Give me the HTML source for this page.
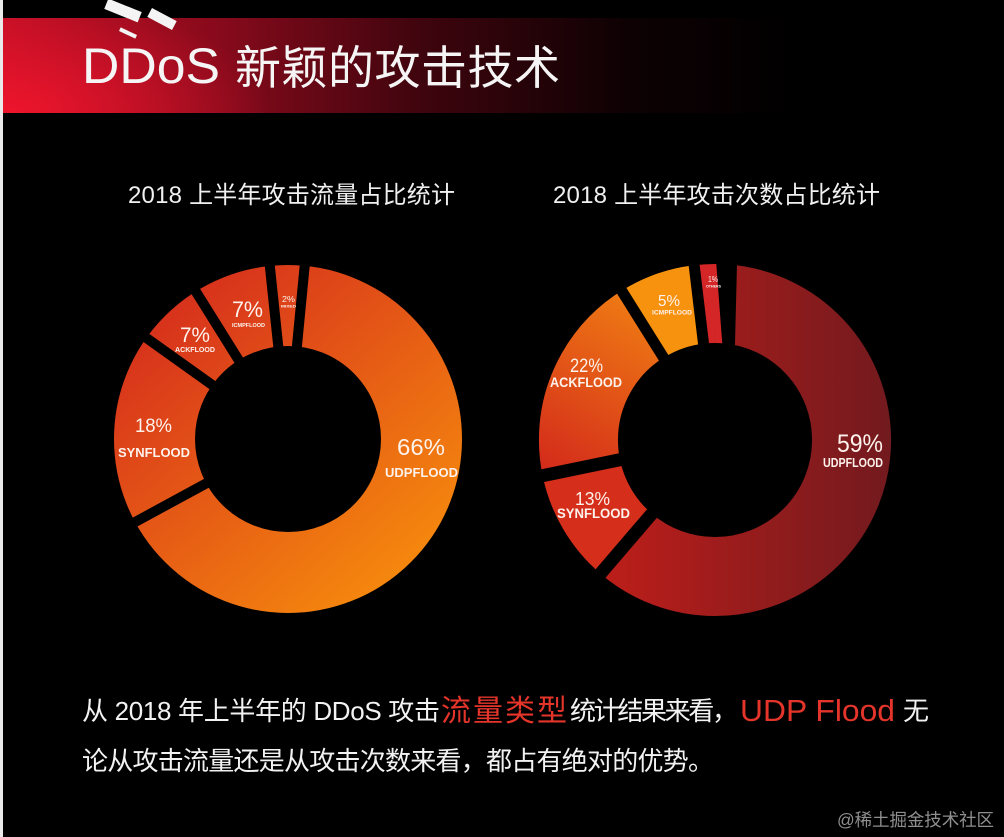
<!DOCTYPE html>
<html><head><meta charset="utf-8">
<style>
html,body{margin:0;padding:0;background:#000;width:1004px;height:837px;overflow:hidden}
svg{display:block}
</style></head>
<body>
<svg width="1004" height="837" viewBox="0 0 1004 837" xmlns="http://www.w3.org/2000/svg">
<defs>
  <linearGradient id="ban" x1="3" y1="0" x2="800" y2="0" gradientUnits="userSpaceOnUse">
    <stop offset="0" stop-color="#c20f25"/>
    <stop offset="0.28" stop-color="#850a1b"/>
    <stop offset="0.52" stop-color="#40050e"/>
    <stop offset="0.78" stop-color="#0e0103"/>
    <stop offset="1" stop-color="#000"/>
  </linearGradient>
  <radialGradient id="banr" cx="10" cy="113" r="260" gradientUnits="userSpaceOnUse" gradientTransform="translate(10 113) scale(1 0.45) translate(-10 -113)">
    <stop offset="0" stop-color="#f5162e" stop-opacity="0.85"/>
    <stop offset="1" stop-color="#f5162e" stop-opacity="0"/>
  </radialGradient>
  <linearGradient id="gL" x1="140" y1="270" x2="440" y2="620" gradientUnits="userSpaceOnUse">
    <stop offset="0" stop-color="#d3261e"/>
    <stop offset="1" stop-color="#fa960b"/>
  </linearGradient>
  <linearGradient id="gU" x1="600" y1="0" x2="890" y2="0" gradientUnits="userSpaceOnUse">
    <stop offset="0" stop-color="#be1e1a"/>
    <stop offset="1" stop-color="#721a1e"/>
  </linearGradient>
  <linearGradient id="gA" x1="548" y1="470" x2="650" y2="300" gradientUnits="userSpaceOnUse">
    <stop offset="0" stop-color="#d42c1b"/>
    <stop offset="1" stop-color="#f07d13"/>
  </linearGradient>
</defs>

<rect x="0" y="0" width="1004" height="837" fill="#000"/>

<!-- banner -->
<rect x="3" y="18" width="800" height="95" fill="url(#ban)"/>
<rect x="3" y="18" width="800" height="95" fill="url(#banr)"/>
<rect x="0" y="0" width="3" height="837" fill="#eaeaea"/>

<!-- satellite decoration -->
<g fill="#f4f4f4">
  <rect x="105" y="5" width="36" height="11" transform="rotate(22 123 10.5)"/>
  <rect x="148" y="14" width="28" height="10" transform="rotate(28 162 19)"/>
  <rect x="119" y="31" width="18" height="4" transform="rotate(25 128 33)"/>
</g>

<text x="82" y="83" font-family="'Liberation Sans', sans-serif" font-size="50" fill="#f5f5f5" textLength="138" lengthAdjust="spacingAndGlyphs">DDoS</text>
<text x="235" y="84" font-family="'Liberation Sans', 'Noto Sans CJK SC', sans-serif" font-size="46" fill="#f5f5f5" textLength="325">新颖的攻击技术</text>

<!-- chart titles -->
<text x="128" y="203" font-family="'Liberation Sans', 'Noto Sans CJK SC', sans-serif" font-size="24" fill="#f0f0f0" textLength="327">2018 上半年攻击流量占比统计</text>
<text x="553" y="203" font-family="'Liberation Sans', 'Noto Sans CJK SC', sans-serif" font-size="24" fill="#f0f0f0" textLength="327">2018 上半年攻击次数占比统计</text>

<!-- left donut -->
<circle cx="288" cy="439" r="133.5" fill="none" stroke="url(#gL)" stroke-width="81"/>
<g stroke="#000" stroke-width="10">
  <line x1="288" y1="354" x2="288" y2="256" transform="rotate(5.5 288 439)"/>
  <line x1="288" y1="354" x2="288" y2="256" transform="rotate(241.5 288 439)"/>
  <line x1="288" y1="354" x2="288" y2="256" transform="rotate(305.5 288 439)"/>
  <line x1="288" y1="354" x2="288" y2="256" transform="rotate(328 288 439)"/>
  <line x1="288" y1="354" x2="288" y2="256" transform="rotate(354 288 439)"/>
</g>

<!-- right donut -->
<g fill="none" stroke-width="79">
  <path d="M715 303.5 A136.5 136.5 0 1 1 715 576.5 A136.5 136.5 0 1 1 715 303.5" stroke="url(#gU)" stroke-dasharray="0 9.53 516.97 900"/>
  <path d="M715 303.5 A136.5 136.5 0 1 1 715 576.5 A136.5 136.5 0 1 1 715 303.5" stroke="#d52f1b" stroke-dasharray="0 524.12 92.91 900"/>
  <path d="M715 303.5 A136.5 136.5 0 1 1 715 576.5 A136.5 136.5 0 1 1 715 303.5" stroke="url(#gA)" stroke-dasharray="0 614.65 169.15 900"/>
  <path d="M715 303.5 A136.5 136.5 0 1 1 715 576.5 A136.5 136.5 0 1 1 715 303.5" stroke="#f7920e" stroke-dasharray="0 781.41 64.32 900"/>
  <path d="M715 303.5 A136.5 136.5 0 1 1 715 576.5 A136.5 136.5 0 1 1 715 303.5" stroke="#d42627" stroke-dasharray="14.29 826.68 16.68 100"/>
</g>
<g stroke="#000">
  <line x1="715" y1="352" x2="715" y2="255" stroke-width="13" transform="rotate(220.6 715 440)"/>
  <line x1="715" y1="352" x2="715" y2="255" stroke-width="13" transform="rotate(258.3 715 440)"/>
  <line x1="715" y1="352" x2="715" y2="255" stroke-width="11" transform="rotate(328 715 440)"/>
  <line x1="715" y1="352" x2="715" y2="255" stroke-width="11" transform="rotate(353.2 715 440)"/>
</g>
<polygon points="715.4,252 737.3,252 734.8,352 722.9,352" fill="#000"/>

<!-- left labels -->
<g font-family="'Liberation Sans', sans-serif" fill="#fdf2ec">
  <text x="397" y="455" font-size="23" textLength="48" lengthAdjust="spacingAndGlyphs">66%</text>
  <text x="385" y="477" font-size="13" font-weight="bold" textLength="73" lengthAdjust="spacingAndGlyphs">UDPFLOOD</text>
  <text x="135" y="432" font-size="19" textLength="37" lengthAdjust="spacingAndGlyphs">18%</text>
  <text x="118" y="457" font-size="13" font-weight="bold" textLength="72" lengthAdjust="spacingAndGlyphs">SYNFLOOD</text>
  <text x="180" y="342" font-size="21" textLength="30" lengthAdjust="spacingAndGlyphs">7%</text>
  <text x="175" y="352" font-size="7" font-weight="bold" textLength="40" lengthAdjust="spacingAndGlyphs">ACKFLOOD</text>
  <text x="232" y="317" font-size="22" textLength="31" lengthAdjust="spacingAndGlyphs">7%</text>
  <text x="232" y="327" font-size="5.5" font-weight="bold" textLength="33" lengthAdjust="spacingAndGlyphs">ICMPFLOOD</text>
  <text x="282" y="302" font-size="8.5" textLength="13" lengthAdjust="spacingAndGlyphs">2%</text>
  <text x="281" y="307.5" font-size="4" font-weight="bold" textLength="15" lengthAdjust="spacingAndGlyphs">MIXED</text>
</g>

<!-- right labels -->
<g font-family="'Liberation Sans', sans-serif" fill="#fdf2ec">
  <text x="837" y="452" font-size="25" textLength="46" lengthAdjust="spacingAndGlyphs">59%</text>
  <text x="823" y="467" font-size="12.5" font-weight="bold" textLength="60" lengthAdjust="spacingAndGlyphs">UDPFLOOD</text>
  <text x="575" y="505" font-size="18" textLength="35" lengthAdjust="spacingAndGlyphs">13%</text>
  <text x="557" y="518" font-size="13.5" font-weight="bold" textLength="73" lengthAdjust="spacingAndGlyphs">SYNFLOOD</text>
  <text x="570" y="372" font-size="19" textLength="33" lengthAdjust="spacingAndGlyphs">22%</text>
  <text x="550" y="387" font-size="13.5" font-weight="bold" textLength="72" lengthAdjust="spacingAndGlyphs">ACKFLOOD</text>
  <text x="658" y="306" font-size="16" textLength="22" lengthAdjust="spacingAndGlyphs">5%</text>
  <text x="652" y="314.5" font-size="6.5" font-weight="bold" textLength="40" lengthAdjust="spacingAndGlyphs">ICMPFLOOD</text>
  <text x="708" y="282" font-size="8" textLength="10" lengthAdjust="spacingAndGlyphs">1%</text>
  <text x="706" y="287.5" font-size="3.5" font-weight="bold" textLength="15" lengthAdjust="spacingAndGlyphs">OTHERS</text>
</g>

<!-- paragraph -->
<g font-family="'Liberation Sans', 'Noto Sans CJK SC', sans-serif" fill="#f2f2f2">
  <text x="82" y="720" font-size="26" textLength="358">从 2018 年上半年的 DDoS 攻击</text>
  <text x="441" y="721" font-size="30" fill="#e5352b" textLength="126">流量类型</text>
  <text x="570" y="720" font-size="26" textLength="168">统计结果来看，</text>
  <text x="740" y="721" font-size="31" fill="#e5352b" textLength="155" lengthAdjust="spacingAndGlyphs">UDP Flood</text>
  <text x="903" y="720" font-size="26">无</text>
  <text x="82" y="770" font-size="26" textLength="632">论从攻击流量还是从攻击次数来看，都占有绝对的优势。</text>
</g>

<!-- watermark -->
<text x="837" y="826" font-family="'Liberation Sans', 'Noto Sans CJK SC', sans-serif" font-size="17.5" fill="#8f8f8f" textLength="157">@稀土掘金技术社区</text>
</svg>
</body></html>
